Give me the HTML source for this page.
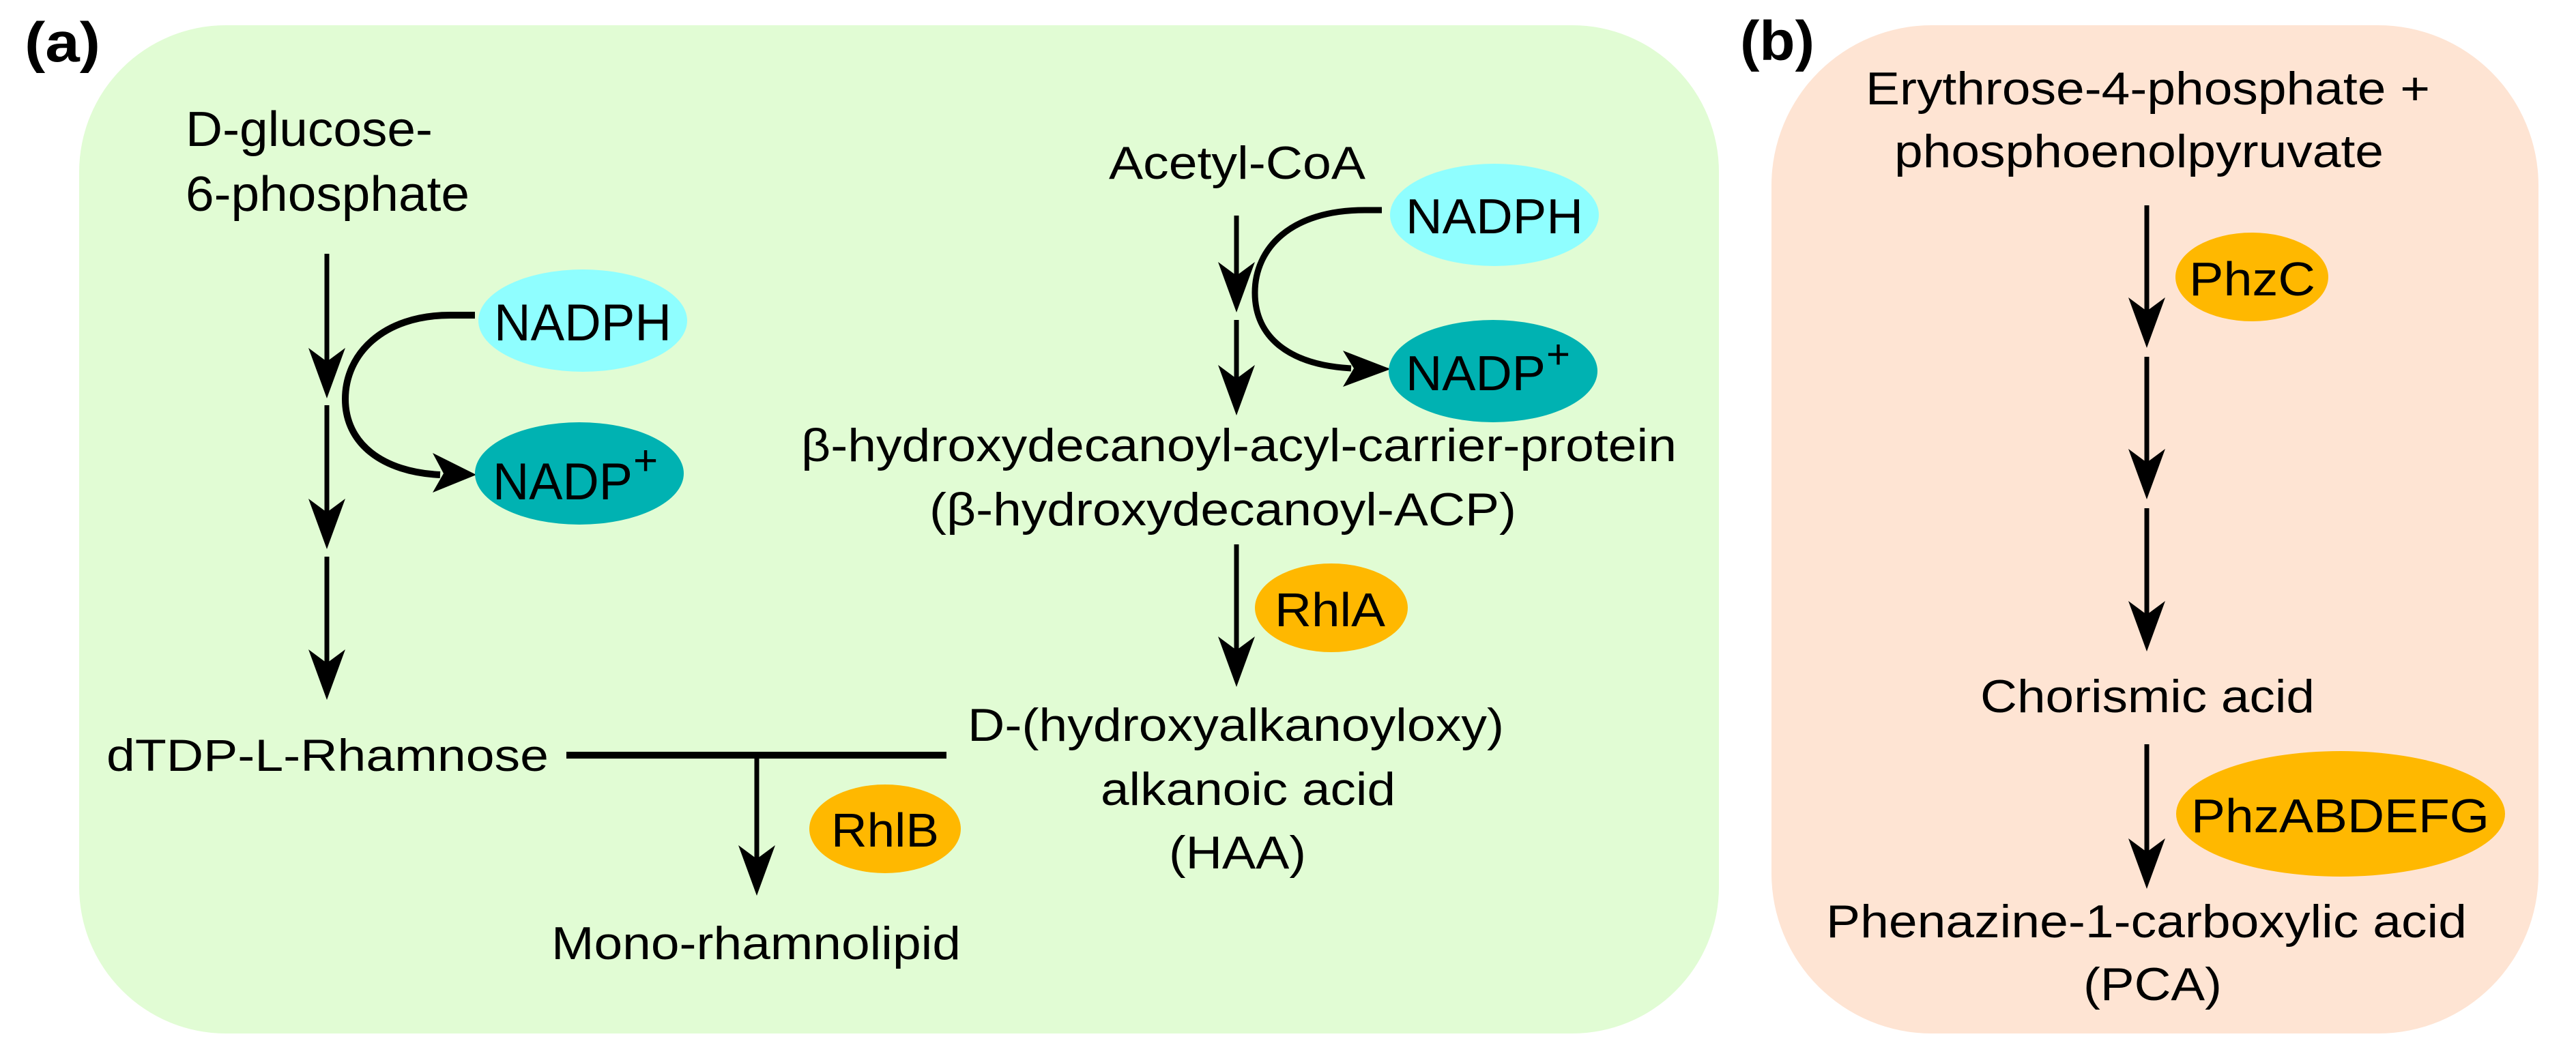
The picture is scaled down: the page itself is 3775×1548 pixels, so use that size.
<!DOCTYPE html>
<html><head><meta charset="utf-8"><style>
html,body{margin:0;padding:0;background:#fff;}
svg{display:block;}
text{font-family:"Liberation Sans",Arial,sans-serif;fill:#000;}
</style></head><body>
<svg width="3775" height="1548" viewBox="0 0 3775 1548" xmlns="http://www.w3.org/2000/svg">
<rect x="116" y="37" width="2403" height="1478" rx="215" ry="215" fill="#e1fcd4"/>
<rect x="2596" y="37" width="1124" height="1478" rx="235" ry="235" fill="#fee4d3"/>

<text x="36" y="90" font-size="82" font-weight="bold" textLength="111" lengthAdjust="spacingAndGlyphs">(a)</text>
<text x="2550" y="88" font-size="82" font-weight="bold" textLength="109" lengthAdjust="spacingAndGlyphs">(b)</text>

<g stroke="#000" fill="none">
<line x1="479" y1="372" x2="479" y2="540" stroke-width="7"/>
<line x1="479" y1="594" x2="479" y2="760" stroke-width="7"/>
<line x1="479" y1="816" x2="479" y2="982" stroke-width="7"/>
<line x1="1812" y1="316" x2="1812" y2="414" stroke-width="7"/>
<line x1="1812" y1="469" x2="1812" y2="565" stroke-width="7"/>
<line x1="1812" y1="798" x2="1812" y2="963" stroke-width="7"/>
<line x1="830" y1="1107" x2="1387" y2="1107" stroke-width="10"/>
<line x1="1109" y1="1107" x2="1109" y2="1270" stroke-width="7"/>
<line x1="3146" y1="301" x2="3146" y2="466" stroke-width="7"/>
<line x1="3146" y1="523" x2="3146" y2="688" stroke-width="7"/>
<line x1="3146" y1="745" x2="3146" y2="911" stroke-width="7"/>
<line x1="3146" y1="1091" x2="3146" y2="1259" stroke-width="7"/>
<path d="M696,462 L660,462 C560,462 506,520 506,585 C506,650 560,692 645,696" stroke-width="10"/>
<path d="M2025,308 L2000,308 C1890,308 1839,365 1839,429 C1839,495 1890,535 1980,540" stroke-width="9"/>
</g>
<g fill="#000">
<polygon points="479,584 452,510 479,530 506,510"/>
<polygon points="479,805 452,731 479,751 506,731"/>
<polygon points="479,1026 452,952 479,972 506,952"/>
<polygon points="1812,458 1785,384 1812,404 1839,384"/>
<polygon points="1812,609 1785,535 1812,555 1839,535"/>
<polygon points="1812,1007 1785,933 1812,953 1839,933"/>
<polygon points="1109,1313 1082,1239 1109,1259 1136,1239"/>
<polygon points="3146,510 3119,436 3146,456 3173,436"/>
<polygon points="3146,732 3119,658 3146,678 3173,658"/>
<polygon points="3146,955 3119,881 3146,901 3173,881"/>
<polygon points="3146,1303 3119,1229 3146,1249 3173,1229"/>
<polygon points="698,696 634,664 650,694 634,722"/>
<polygon points="2038,541 1968,514 1984,540 1968,567"/>
</g>

<ellipse cx="854" cy="470" rx="153" ry="75" fill="#8ffeff"/>
<ellipse cx="849" cy="694" rx="153" ry="75" fill="#00b2b2"/>
<ellipse cx="2190" cy="315" rx="153" ry="75" fill="#8ffeff"/>
<ellipse cx="2188" cy="544" rx="153" ry="75" fill="#00b2b2"/>
<ellipse cx="1951" cy="891" rx="112" ry="65" fill="#ffb800"/>
<ellipse cx="1297" cy="1215" rx="111" ry="65" fill="#ffb800"/>
<ellipse cx="3300" cy="406" rx="112" ry="65" fill="#ffb800"/>
<ellipse cx="3430" cy="1193" rx="241" ry="92" fill="#ffb800"/>

<text x="272" y="214" font-size="72" textLength="362" lengthAdjust="spacingAndGlyphs">D-glucose-</text>
<text x="272" y="309" font-size="72" textLength="416" lengthAdjust="spacingAndGlyphs">6-phosphate</text>
<text x="724" y="499" font-size="76" textLength="260" lengthAdjust="spacingAndGlyphs">NADPH</text>
<text x="722" y="732" font-size="76" textLength="205" lengthAdjust="spacingAndGlyphs">NADP</text>
<text x="928" y="696" font-size="62">+</text>
<text x="156" y="1130" font-size="66" textLength="648" lengthAdjust="spacingAndGlyphs">dTDP-L-Rhamnose</text>
<text x="808" y="1406" font-size="68" textLength="600" lengthAdjust="spacingAndGlyphs">Mono-rhamnolipid</text>
<text x="1218" y="1241" font-size="70" textLength="158" lengthAdjust="spacingAndGlyphs">RhlB</text>

<text x="1625" y="262" font-size="68" textLength="376" lengthAdjust="spacingAndGlyphs">Acetyl-CoA</text>
<text x="2060" y="342" font-size="72" textLength="260" lengthAdjust="spacingAndGlyphs">NADPH</text>
<text x="2060" y="572" font-size="72" textLength="205" lengthAdjust="spacingAndGlyphs">NADP</text>
<text x="2266" y="540" font-size="60">+</text>
<text x="1174" y="676" font-size="68" textLength="1283" lengthAdjust="spacingAndGlyphs">β-hydroxydecanoyl-acyl-carrier-protein</text>
<text x="1362" y="770" font-size="68" textLength="860" lengthAdjust="spacingAndGlyphs">(β-hydroxydecanoyl-ACP)</text>
<text x="1868" y="918" font-size="70" textLength="162" lengthAdjust="spacingAndGlyphs">RhlA</text>
<text x="1418" y="1086" font-size="68" textLength="786" lengthAdjust="spacingAndGlyphs">D-(hydroxyalkanoyloxy)</text>
<text x="1613" y="1180" font-size="68" textLength="432" lengthAdjust="spacingAndGlyphs">alkanoic acid</text>
<text x="1713" y="1273" font-size="68" textLength="201" lengthAdjust="spacingAndGlyphs">(HAA)</text>

<text x="2734" y="153" font-size="68" textLength="827" lengthAdjust="spacingAndGlyphs">Erythrose-4-phosphate +</text>
<text x="2776" y="245" font-size="68" textLength="717" lengthAdjust="spacingAndGlyphs">phosphoenolpyruvate</text>
<text x="3208" y="433" font-size="70" textLength="185" lengthAdjust="spacingAndGlyphs">PhzC</text>
<text x="2902" y="1044" font-size="68" textLength="490" lengthAdjust="spacingAndGlyphs">Chorismic acid</text>
<text x="3211" y="1220" font-size="70" textLength="437" lengthAdjust="spacingAndGlyphs">PhzABDEFG</text>
<text x="2676" y="1374" font-size="68" textLength="939" lengthAdjust="spacingAndGlyphs">Phenazine-1-carboxylic acid</text>
<text x="3053" y="1466" font-size="68" textLength="203" lengthAdjust="spacingAndGlyphs">(PCA)</text>
</svg>
</body></html>
